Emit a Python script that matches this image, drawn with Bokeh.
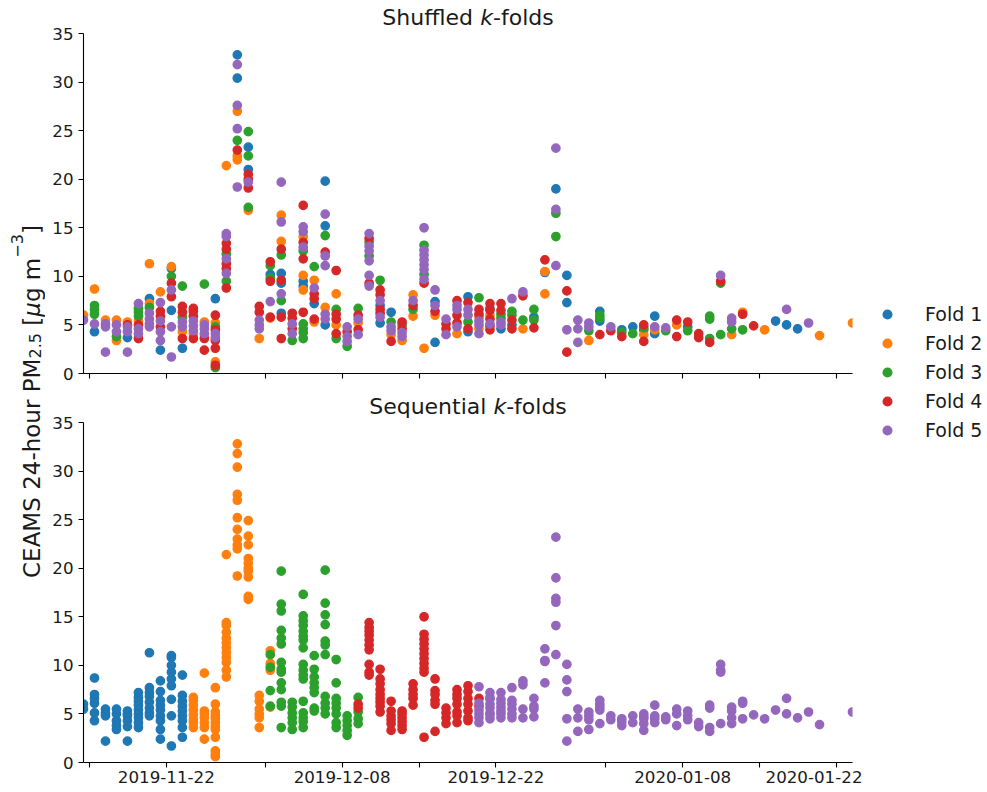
import datetime as dt
from bokeh.plotting import figure
from bokeh.models import (ColumnDataSource, FixedTicker, DatetimeTickFormatter, Range1d,
                          Label, Legend, LegendItem)
from bokeh.layouts import row, column
from bokeh.embed import file_html
from bokeh.resources import INLINE

# ---------------- data ----------------
dates = ["2019-11-14", "2019-11-15", "2019-11-16", "2019-11-17", "2019-11-18", "2019-11-19",
         "2019-11-20", "2019-11-21", "2019-11-22", "2019-11-23", "2019-11-24", "2019-11-25",
         "2019-11-26", "2019-11-27", "2019-11-28", "2019-11-29", "2019-11-30", "2019-12-01",
         "2019-12-02", "2019-12-03", "2019-12-04", "2019-12-05", "2019-12-06", "2019-12-07",
         "2019-12-08", "2019-12-09", "2019-12-10", "2019-12-11", "2019-12-12", "2019-12-13",
         "2019-12-14", "2019-12-15", "2019-12-16", "2019-12-17", "2019-12-18", "2019-12-19",
         "2019-12-20", "2019-12-21", "2019-12-22", "2019-12-23", "2019-12-24", "2019-12-25",
         "2019-12-26", "2019-12-27", "2019-12-28", "2019-12-29", "2019-12-30", "2019-12-31",
         "2020-01-01", "2020-01-02", "2020-01-03", "2020-01-04", "2020-01-05", "2020-01-06",
         "2020-01-07", "2020-01-08", "2020-01-09", "2020-01-10", "2020-01-11", "2020-01-12",
         "2020-01-13", "2020-01-14", "2020-01-15", "2020-01-16", "2020-01-17", "2020-01-18",
         "2020-01-19", "2020-01-20", "2020-01-23"]

values = [
    [6.0, 5.5],
    [8.7, 7.0, 6.6, 6.1, 5.1, 4.3],
    [5.5, 5.1, 4.8, 2.2],
    [5.5, 5.0, 4.3, 3.8, 3.4],
    [5.3, 5.0, 4.8, 4.3, 3.7, 2.2],
    [7.2, 6.7, 6.3, 5.9, 5.4, 5.0, 4.6, 4.1, 3.6],
    [11.3, 7.7, 7.2, 6.8, 6.2, 5.6, 5.1, 4.8],
    [8.4, 7.3, 6.4, 5.9, 5.4, 4.8, 4.3, 3.4, 2.4],
    [11.0, 10.8, 10.0, 9.3, 8.6, 7.9, 6.5, 4.8, 1.7],
    [9.0, 6.9, 6.3, 5.8, 5.3, 4.8, 4.3, 3.6, 2.6],
    [6.7, 6.4, 5.9, 5.4, 4.9, 4.4, 4.1, 3.6],
    [9.2, 5.3, 5.0, 4.6, 4.1, 3.6, 2.4],
    [7.7, 6.0, 5.2, 4.8, 4.5, 4.1, 3.7, 3.4, 2.6, 1.2, 0.85, 0.6],
    [21.4, 14.4, 14.1, 13.4, 12.8, 12.3, 11.8, 11.3, 10.8, 10.3, 9.5, 8.8],
    [32.8, 31.8, 30.4, 27.6, 27.0, 25.2, 24.0, 23.0, 22.4, 22.0, 19.2],
    [24.9, 23.3, 22.4, 21.0, 20.5, 20.0, 19.7, 19.1, 17.1, 16.8],
    [6.9, 6.3, 5.5, 5.0, 4.6, 3.6],
    [11.5, 11.1, 10.2, 9.8, 9.5, 7.4, 5.8, 5.7],
    [19.7, 16.3, 15.6, 13.6, 12.8, 12.2, 10.3, 9.6, 9.3, 8.2, 7.5, 6.2, 5.8, 3.6],
    [6.2, 5.7, 5.1, 4.6, 4.1, 3.4],
    [17.3, 15.1, 14.6, 14.1, 13.5, 13.0, 12.6, 11.8, 10.1, 9.5, 9.0, 8.6, 6.3, 5.1, 4.6, 4.2, 3.6],
    [11.0, 9.6, 8.8, 8.2, 7.7, 7.2, 5.6, 5.3],
    [19.8, 16.4, 15.2, 14.2, 12.5, 12.1, 11.1, 6.8, 6.1, 5.6, 5.0],
    [10.6, 8.2, 6.6, 6.1, 5.6, 5.0, 4.1, 3.6],
    [4.8, 4.3, 3.8, 3.3, 2.8],
    [6.7, 6.0, 5.6, 5.2, 4.5, 4.0],
    [14.4, 13.9, 13.5, 13.1, 12.6, 12.1, 11.6, 10.1, 9.3, 9.0],
    [9.6, 8.6, 8.1, 7.5, 7.0, 6.6, 6.2, 5.8, 5.2],
    [6.3, 5.3, 4.8, 4.4, 4.0, 3.3],
    [5.3, 5.0, 4.6, 4.2, 3.8, 3.4],
    [8.1, 7.5, 7.0, 6.6, 5.9],
    [15.0, 13.2, 12.7, 12.2, 11.7, 11.2, 10.7, 10.2, 9.7, 9.3, 2.6],
    [8.6, 7.4, 7.0, 6.4, 6.0, 3.2],
    [5.6, 5.1, 4.6, 4.0],
    [7.5, 7.0, 6.6, 6.0, 5.2, 4.8, 4.1],
    [7.9, 7.3, 6.6, 6.0, 5.3, 4.6, 4.3],
    [7.8, 6.6, 6.1, 5.8, 5.4, 5.0, 4.6, 4.1],
    [7.2, 6.7, 6.5, 6.0, 5.6, 5.1, 4.9, 4.5],
    [7.2, 6.5, 6.1, 5.7, 5.3, 5.0, 4.6],
    [7.7, 6.4, 6.0, 5.5, 5.0, 4.6],
    [8.4, 8.0, 5.5, 4.6],
    [6.6, 5.8, 5.5, 4.7],
    [11.7, 10.5, 10.4, 8.2],
    [23.2, 19.0, 16.9, 16.5, 14.1, 11.1],
    [10.1, 8.5, 7.3, 4.5, 2.2],
    [5.5, 4.6, 3.2],
    [5.2, 4.8, 4.4, 3.4],
    [6.4, 6.0, 5.7, 5.4, 4.0],
    [4.8, 4.4],
    [4.5, 4.2, 3.8],
    [4.8, 4.1],
    [5.0, 4.7, 4.5, 4.0, 3.3],
    [5.9, 4.8, 4.5, 4.1],
    [4.7, 4.4],
    [5.5, 5.0, 3.8],
    [5.3, 4.8, 4.4],
    [4.1, 3.7],
    [5.9, 5.6, 3.6, 3.2],
    [10.1, 9.5, 9.3, 4.0],
    [5.7, 5.3, 4.6, 4.0],
    [6.3, 6.1, 4.5],
    [4.9],
    [4.5],
    [5.4],
    [6.6, 5.0],
    [4.6],
    [5.2],
    [3.9],
    [5.2],
]

# fold of each value (one digit per value) in the shuffled split
shuffled_fold = ["25", "233351", "2555", "25532", "245515", "533324554", "21235555",
                 "254454551", "213454155", "344355241", "44455524", "3255544",
                 "142345544243", "255443544534", "15152534225", "3131445432", "445552",
                 "43134542", "52524314153144", "445453", "45524534211243333", "32544142",
                 "15134552551", "42344243", "54553", "345245", "5435535545", "344514451",
                 "135524", "434552", "25432", "53555553542", "515421", "5445", "4554452",
                 "1455341", "34425525", "41424544", "4433551", "533414", "5432", "3134",
                 "4212", "515335", "14154", "555", "5532", "13314", "54", "134", "13",
                 "43124", "1521", "53", "424", "413", "44", "3334", "5433", "5532", "243",
                 "4", "2", "1", "51", "1", "5", "2", "2"]

# fold of each value in the sequential split
sequential_fold = ["11", "111111", "1111", "11111", "111111", "111111111", "11111111",
                   "111111111", "111111111", "111111111", "22222222", "2222222",
                   "222222222222", "222222222222", "22222222222", "2222222222", "222222",
                   "23232332", "33333333333333", "333333", "33333333333333333", "33333333",
                   "33333333333", "33333333", "33333", "344333", "4444444444", "444444444",
                   "444444", "444444", "44444", "44444444444", "444444", "4444", "4444444",
                   "4444444", "54545555", "55555555", "5555555", "555555", "5555", "5555",
                   "5555", "555555", "55555", "555", "5555", "55555", "55", "555", "55",
                   "55555", "5555", "55", "555", "555", "55", "5555", "5555", "5555", "555",
                   "5", "5", "5", "55", "5", "5", "5", "5"]

fold_names = ["Fold 1", "Fold 2", "Fold 3", "Fold 4", "Fold 5"]
fold_colors = ["#1f77b4", "#ff7f0e", "#2ca02c", "#d62728", "#9467bd"]

tick_dates = ["2019-11-15", "2019-12-01", "2019-12-15", "2020-01-01", "2020-01-15"]
labelled_tick_dates = ["2019-11-22", "2019-12-08", "2019-12-22", "2020-01-08", "2020-01-22"]
y_ticks = [0, 5, 10, 15, 20, 25, 30, 35]
Y_MAX = 35

SAMPLE_HOUR = 11
EPOCH = dt.datetime(1970, 1, 1)


def ms(day, hour=0):
    d = dt.datetime.strptime(day, "%Y-%m-%d") + dt.timedelta(hours=hour)
    return (d - EPOCH).total_seconds() * 1000.0


def fold_sources(assign):
    out = []
    for f in range(1, 6):
        xs, ys = [], []
        for d, vals, fs in zip(dates, values, assign):
            if len(vals) != len(fs):
                raise ValueError("length mismatch on " + d)
            for v, c in zip(vals, fs):
                if int(c) == f:
                    xs.append(ms(d, SAMPLE_HOUR))
                    ys.append(v)
        out.append(ColumnDataSource(dict(x=xs, y=ys)))
    return out


# ---------------- text metrics (DejaVu Sans advance widths, em) ----------------
ADV = {" ": .318, "-": .361, ".": .318, "A": .684, "C": .698, "E": .632, "M": .863,
       "P": .603, "S": .635, "[": .390, "]": .390, "a": .613, "d": .635, "e": .615,
       "f": .352, "g": .635, "h": .634, "i": .278, "k": .579, "l": .278, "m": .974,
       "n": .634, "o": .612, "q": .635, "r": .411, "s": .521, "t": .392, "u": .634,
       "μ": .636, "−": .838}


def text_w(s, size):
    return sum(ADV.get(ch, .636) for ch in s) * size


FONT = "DejaVu Sans"
INK = "#1a1a1a"
PAGE_W, PAGE_H = 987, 792
LAB_W = 45
FRAME_W = 769
AXIS_H = 340          # pixel height of the 0..35 part of each panel
HEAD_H = 33           # room above the 35 line, inside the frame, for the title
BORDER_L, BORDER_R = 38, 10
PANEL_W = BORDER_L + FRAME_W + BORDER_R
TICK_FS = "16.7px"
TITLE_FS = 22
TITLE_MID = 17        # vertical middle of title text, px below the frame top


def blank_fig(w, h):
    f = figure(width=w, height=h, x_range=Range1d(0, w), y_range=Range1d(0, h),
               output_backend="svg", toolbar_location=None, min_border=0, title=None,
               x_axis_location=None, y_axis_location=None)
    f.outline_line_color = None
    f.xgrid.visible = False
    f.ygrid.visible = False
    f.background_fill_color = "white"
    f.border_fill_color = "white"
    return f


def add_title(p, first):
    frame_h = AXIS_H + HEAD_H
    parts = [(first, "normal"), (" ", "normal"), ("k", "italic"), ("-folds", "normal")]
    total = sum(text_w(t, TITLE_FS) for t, _ in parts)
    x = FRAME_W / 2 - total / 2
    for t, style in parts:
        if t.strip():
            p.add_layout(Label(x=x, y=frame_h - TITLE_MID, x_units="screen", y_units="screen",
                               text=t, text_font=FONT, text_font_size=f"{TITLE_FS}px",
                               text_font_style=style, text_color=INK,
                               text_align="left", text_baseline="middle"))
        x += text_w(t, TITLE_FS)


x_range = Range1d(ms(dates[0], SAMPLE_HOUR), ms(dates[-1], SAMPLE_HOUR))


def make_panel(first_word, border_bottom, show_labels, assign):
    frame_h = AXIS_H + HEAD_H
    y_top = Y_MAX * frame_h / AXIS_H
    p = figure(width=PANEL_W, height=frame_h + border_bottom, title=None,
               x_range=x_range, y_range=Range1d(0, y_top), x_axis_type="datetime",
               output_backend="svg", toolbar_location=None,
               min_border_left=BORDER_L, min_border_right=BORDER_R,
               min_border_top=0, min_border_bottom=border_bottom)
    p.outline_line_color = None
    p.xgrid.visible = False
    p.ygrid.visible = False
    p.background_fill_color = "white"
    p.border_fill_color = "white"

    for f, src in enumerate(fold_sources(assign)):
        p.scatter("x", "y", source=src, size=8.4, fill_color=fold_colors[f],
                  line_color=fold_colors[f], line_width=1.3)

    if show_labels:
        p.xaxis.ticker = FixedTicker(ticks=[ms(d) for d in labelled_tick_dates],
                                     minor_ticks=[ms(d) for d in tick_dates])
    else:
        # same tick marks, but none of them carries a label in this panel
        p.xaxis.ticker = FixedTicker(ticks=[],
                                     minor_ticks=sorted(ms(d) for d in
                                                        labelled_tick_dates + tick_dates))
    fmt = "%Y-%m-%d"
    p.xaxis.formatter = DatetimeTickFormatter(days=fmt, months=fmt, years=fmt, hours=fmt,
                                              hourmin=fmt, minutes=fmt, minsec=fmt,
                                              seconds=fmt, milliseconds=fmt,
                                              microseconds=fmt)
    p.yaxis.ticker = FixedTicker(ticks=y_ticks)
    p.yaxis.bounds = (0, Y_MAX)
    for ax in (p.xaxis, p.yaxis):
        ax.axis_line_color = "black"
        ax.axis_line_width = 1.1
        ax.major_tick_line_color = "black"
        ax.major_tick_line_width = 1.1
        ax.major_tick_in = 0
        ax.major_tick_out = 5
        ax.major_label_text_font = FONT
        ax.major_label_text_font_size = TICK_FS
        ax.major_label_text_color = INK
    p.yaxis.minor_tick_line_color = None
    p.yaxis.major_label_standoff = 5
    p.xaxis.minor_tick_line_color = "black"
    p.xaxis.minor_tick_line_width = 1.1
    p.xaxis.minor_tick_in = 0
    p.xaxis.minor_tick_out = 5
    p.xaxis.major_label_standoff = 3
    add_title(p, first_word)
    return p


top = make_panel("Shuffled", 16, False, shuffled_fold)
bottom = make_panel("Sequential", 30, True, sequential_fold)

# ---------------- y label (spans both panels) ----------------
lab = blank_fig(LAB_W, PAGE_H)
YF = 23
SF = YF * 0.7
pieces = [("CEAMS 24-hour PM", YF, "normal", 0), ("2.5", SF, "normal", 3),
          (" ", YF, "normal", 0), ("[", YF, "normal", 0), ("μ", YF, "italic", 0),
          ("g", YF, "normal", 0), (" ", YF, "normal", 0), ("m", YF, "normal", 0),
          ("−3", SF, "normal", -15), ("]", YF, "normal", 0)]
total = sum(text_w(t, s) for t, s, _, _ in pieces)
ypos = (PAGE_H - 401) - total / 2
BASE_X = 31
for t, s, style, shift in pieces:
    if t.strip():
        lab.add_layout(Label(x=BASE_X + shift, y=ypos, text=t, angle=1.5707963267948966,
                             text_font=FONT, text_font_size=f"{s:.1f}px",
                             text_font_style=style, text_color=INK,
                             text_align="left", text_baseline="alphabetic"))
    ypos += text_w(t, s)

# ---------------- legend ----------------
LEG_W = PAGE_W - LAB_W - PANEL_W
leg = blank_fig(LEG_W, PAGE_H)
items = []
for name, col in zip(fold_names, fold_colors):
    r = leg.scatter([-100], [-100], size=8.4, fill_color=col, line_color=col, line_width=1.3)
    items.append(LegendItem(label=name, renderers=[r]))
legend = Legend(items=items, location=(14, 351), orientation="vertical",
                label_text_font=FONT, label_text_font_size="19px", label_text_color=INK,
                glyph_width=22, glyph_height=22, label_height=22, spacing=7,
                label_standoff=27, padding=0, margin=0, border_line_color=None,
                background_fill_alpha=0)
leg.add_layout(legend)

layout = row(lab, column(top, bottom), leg)
open("out.html", "w").write(file_html(layout, INLINE))
